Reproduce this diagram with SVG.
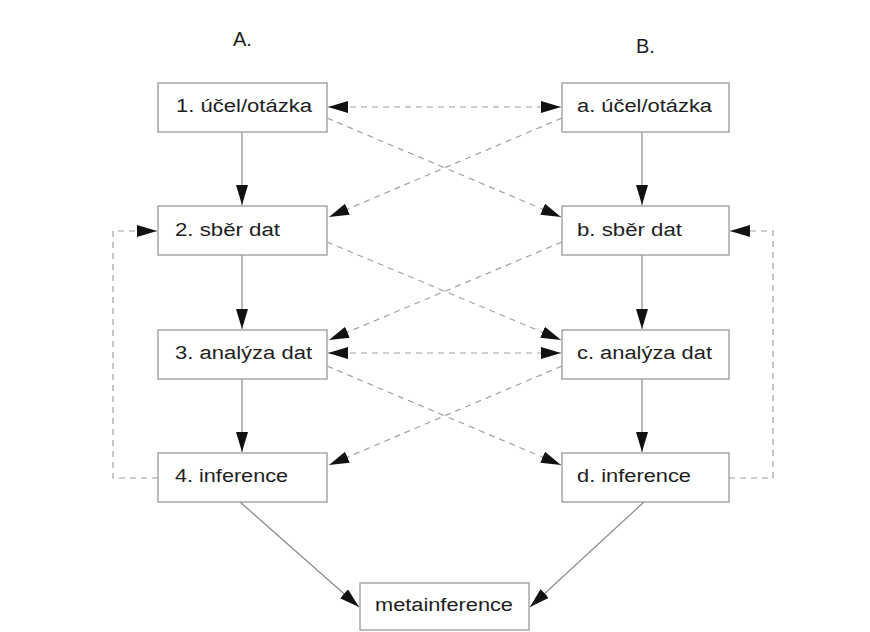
<svg xmlns="http://www.w3.org/2000/svg" width="870" height="632" viewBox="0 0 870 632">
<defs>
<style>
.box{fill:#fff;stroke:#9a9a9a;stroke-width:1.3}
.t{font-family:"Liberation Sans",Arial,sans-serif;font-size:18px;fill:#1e1e1e}
.ttl{font-family:"Liberation Sans",Arial,sans-serif;font-size:20px;fill:#1e1e1e}
.s{fill:none;stroke:#8a8a8a;stroke-width:1.2}
.d{fill:none;stroke:#a0a0a0;stroke-width:1.2;stroke-dasharray:6 5}
.ar{marker-end:url(#ah)}
.ar2{marker-start:url(#ah);marker-end:url(#ah)}
</style>
<marker id="ah" markerUnits="userSpaceOnUse" markerWidth="21" markerHeight="13" refX="20" refY="6" orient="auto-start-reverse">
<path d="M0,0 L20,6 L0,12 z" fill="#111"/>
</marker>
</defs>
<rect width="870" height="632" fill="#fff"/>
<text class="ttl" x="233" y="46">A.</text>
<text class="ttl" x="636" y="53">B.</text>
<g id="connectors">
<line class="s ar" x1="242" y1="132" x2="242" y2="205"/>
<line class="s ar" x1="242" y1="255" x2="242" y2="329"/>
<line class="s ar" x1="242" y1="379" x2="242" y2="452"/>
<line class="s ar" x1="642" y1="132" x2="642" y2="205"/>
<line class="s ar" x1="642" y1="255" x2="642" y2="329"/>
<line class="s ar" x1="642" y1="379" x2="642" y2="452"/>
<line class="d ar2" x1="328" y1="107" x2="561" y2="107"/>
<line class="d ar2" x1="328" y1="353" x2="561" y2="353"/>
<line class="d ar" x1="327" y1="118" x2="561" y2="217"/>
<line class="d ar" x1="562" y1="118" x2="329" y2="217"/>
<line class="d ar" x1="327" y1="242" x2="561" y2="340"/>
<line class="d ar" x1="562" y1="242" x2="329" y2="340"/>
<line class="d ar" x1="327" y1="366" x2="561" y2="465"/>
<line class="d ar" x1="562" y1="366" x2="329" y2="465"/>
<polyline class="d ar" points="158,478 113,478 113,231 157,231"/>
<polyline class="d ar" points="729,478 773,478 773,231 730,231"/>
<line class="s ar" x1="240" y1="502" x2="359" y2="607"/>
<line class="s ar" x1="644" y1="502" x2="530" y2="607"/>
</g>
<g id="n1"><rect class="box" x="158" y="83" width="169" height="49"/><text class="t" x="176" y="112" textLength="136" lengthAdjust="spacingAndGlyphs">1. účel/otázka</text></g>
<g id="n2"><rect class="box" x="158" y="206" width="169" height="49"/><text class="t" x="175" y="236" textLength="105" lengthAdjust="spacingAndGlyphs">2. sběr dat</text></g>
<g id="n3"><rect class="box" x="158" y="330" width="169" height="49"/><text class="t" x="175" y="359" textLength="137" lengthAdjust="spacingAndGlyphs">3. analýza dat</text></g>
<g id="n4"><rect class="box" x="158" y="453" width="169" height="49"/><text class="t" x="175" y="482" textLength="113" lengthAdjust="spacingAndGlyphs">4. inference</text></g>
<g id="na"><rect class="box" x="562" y="83" width="167" height="49"/><text class="t" x="577" y="112" textLength="135" lengthAdjust="spacingAndGlyphs">a. účel/otázka</text></g>
<g id="nb"><rect class="box" x="562" y="206" width="167" height="49"/><text class="t" x="577" y="236" textLength="105" lengthAdjust="spacingAndGlyphs">b. sběr dat</text></g>
<g id="nc"><rect class="box" x="562" y="330" width="167" height="49"/><text class="t" x="577" y="359" textLength="135" lengthAdjust="spacingAndGlyphs">c. analýza dat</text></g>
<g id="nd"><rect class="box" x="562" y="453" width="167" height="49"/><text class="t" x="577" y="482" textLength="114" lengthAdjust="spacingAndGlyphs">d. inference</text></g>
<g id="nm"><rect class="box" x="360" y="583" width="169" height="47"/><text class="t" x="375" y="611" textLength="138" lengthAdjust="spacingAndGlyphs">metainference</text></g>
</svg>
